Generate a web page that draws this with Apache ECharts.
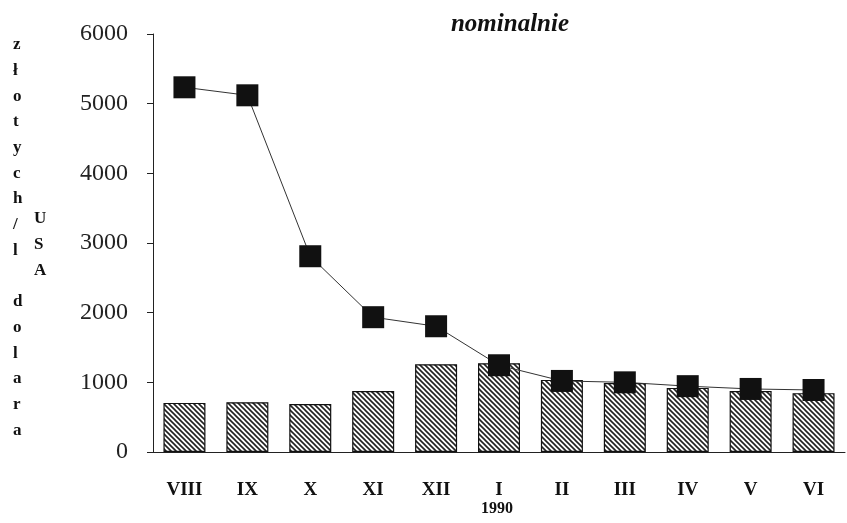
<!DOCTYPE html>
<html>
<head>
<meta charset="utf-8">
<script src="https://cdn.jsdelivr.net/npm/echarts@6/dist/echarts.min.js"></script>
<style>html,body{margin:0;padding:0;background:#fff}#c{width:847px;height:523px}</style>
</head>
<body>
<div id="c"></div>
<script>
const categories = ['VIII','IX','X','XI','XII','I','II','III','IV','V','VI'];
const barValues = [705, 715, 690, 875, 1260, 1275, 1035, 990, 920, 875, 845];
const lineValues = [5235, 5120, 2810, 1935, 1805, 1245, 1020, 1000, 945, 905, 890];
const yTicks = [0, 1000, 2000, 3000, 4000, 5000, 6000];
const title = 'nominalnie';
const yLabelMain = 'złotych/l dolara';
const yLabelSub = 'USA';
const yearLabel = '1990';

function hatch() {
  const s = 5;
  const cv = document.createElement('canvas');
  cv.width = s; cv.height = s;
  const g = cv.getContext('2d');
  g.fillStyle = '#fff'; g.fillRect(0, 0, s, s);
  g.strokeStyle = '#222'; g.lineWidth = 1.6;
  g.beginPath();
  g.moveTo(-1, -1); g.lineTo(s + 1, s + 1);
  g.moveTo(-1, s - 1); g.lineTo(1, s + 1);
  g.moveTo(s - 1, -1); g.lineTo(s + 1, 1);
  g.stroke();
  return cv;
}

const chart = echarts.init(document.getElementById('c'), null, {renderer: 'canvas'});
const serif = '"Liberation Serif", "DejaVu Serif", serif';
chart.setOption({
  animation: false,
  backgroundColor: '#fff',
  title: {
    text: title, left: 505, top: 7, textAlign: 'center',
    textStyle: {fontFamily: serif, fontWeight: 'bold', fontStyle: 'italic', fontSize: 25, color: '#111'}
  },
  grid: {left: 153, right: 2, top: 34, bottom: 71},
  xAxis: {
    type: 'category', data: categories,
    axisLine: {lineStyle: {color: '#222', width: 1}},
    axisTick: {length: 6, lineStyle: {color: '#222'}},
    axisLabel: {margin: 29, fontFamily: serif, fontWeight: 'bold', fontSize: 19, color: '#111'}
  },
  yAxis: {
    type: 'value', min: yTicks[0], max: yTicks[yTicks.length - 1], interval: 1000,
    splitLine: {show: false},
    axisLine: {show: true, lineStyle: {color: '#222', width: 1}},
    axisTick: {show: true, length: 6, lineStyle: {color: '#222'}},
    axisLabel: {margin: 25, fontFamily: serif, fontSize: 24, color: '#222',
      formatter: v => String(v)}
  },
  graphic: [
    {type: 'text', left: 13, top: 32, style: {
      text: yLabelMain.replace(' ', '').split('').join('\n').replace('l\nd', 'l\n\nd'),
      font: 'bold 17px ' + serif, fill: '#111', lineHeight: 25.7, align: 'center'
    }},
    {type: 'text', left: 34, top: 206, style: {
      text: yLabelSub.split('').join('\n'),
      font: 'bold 17px ' + serif, fill: '#111', lineHeight: 25.7, align: 'center'
    }},
    {type: 'text', left: 481, top: 501, style: {
      text: yearLabel, font: 'bold 16px ' + serif, fill: '#111'
    }}
  ],
  series: [
    {
      type: 'bar', data: barValues, barWidth: 42,
      itemStyle: {color: {image: hatch(), repeat: 'repeat'}, borderColor: '#111', borderWidth: 1.2}
    },
    {
      type: 'line', data: lineValues, symbol: 'rect', symbolSize: 22,
      itemStyle: {color: '#111'}, lineStyle: {color: '#333', width: 1}
    }
  ]
});
</script>
</body>
</html>
